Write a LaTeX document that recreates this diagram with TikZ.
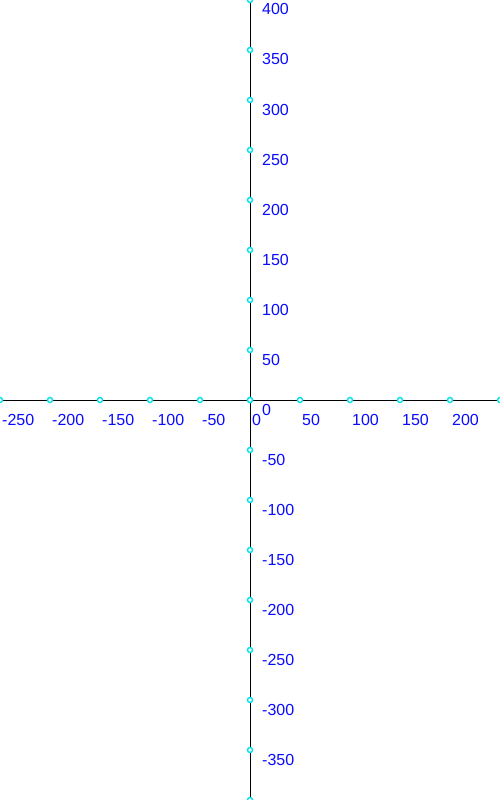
\documentclass[tikz,border=0pt]{standalone}
\usepackage{fontspec}
\setmainfont{Liberation Sans}
\definecolor{axblue}{RGB}{10,10,255}
\definecolor{tickcyan}{RGB}{0,225,235}
\begin{document}
\begin{tikzpicture}[x=1pt,y=-1pt,
  axis/.style={draw=black,line width=1pt},
  tickmark/.style={circle,draw=tickcyan,fill=white,line width=1.4pt,inner sep=0pt,minimum size=5pt},
  lbl/.style={text=axblue,font=\fontsize{16}{18}\selectfont,inner sep=0pt,anchor=base west}]
\useasboundingbox (0,0) rectangle (500,800);
\clip (0,0) rectangle (500,800);
\coordinate (xl) at (0,400);
\coordinate (xr) at (500,400);
\coordinate (yt) at (250,0);
\coordinate (yb) at (250,800);
\draw[axis] (xl) -- (xr);
\draw[axis] (yt) -- (yb);
% x ticks
\foreach \i/\v in {0/-250,1/-200,2/-150,3/-100,4/-50,5/0,6/50,7/100,8/150,9/200}{
  \node[tickmark] (xt\i) at (\i*50,400) {};
  \node[lbl] (xlab\i) at (\i*50+2,425) {\v};
}
\node[tickmark] (xt10) at (500,400) {};
% y ticks
\foreach \j/\v in {0/400,1/350,2/300,3/250,4/200,5/150,6/100,7/50,8/0,9/-50,10/-100,11/-150,12/-200,13/-250,14/-300,15/-350}{
  \node[tickmark] (yt\j) at (250,\j*50) {};
  \node[lbl] (ylab\j) at (262,\j*50+15) {\v};
}
\node[tickmark] (yt16) at (250,800) {};
\end{tikzpicture}
\end{document}
